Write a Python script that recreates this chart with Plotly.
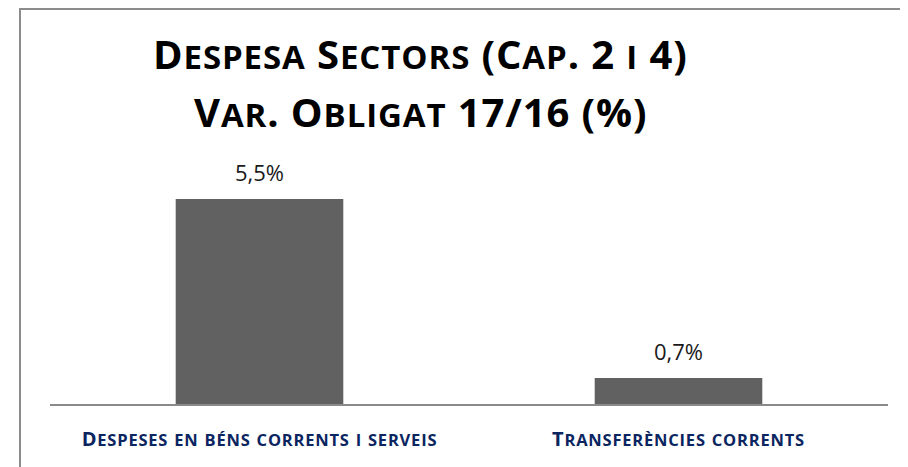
import plotly.graph_objects as go

categories = ["Despeses en béns corrents i serveis", "Transferències corrents"]
values = [5.5, 0.7]
title_lines = ["Despesa Sectors (Cap. 2 i 4)", "Var. Obligat 17/16 (%)"]

FONT = "Open Sans"
BAR_COLOR = "#616161"
LABEL_COLOR = "#0B2560"

# page offset of the figure (browser body margin)
OFF = 8
L, R_EDGE, TOP, BASE = 50 - OFF, 888 - OFF, 0, 404 - OFF
PH = BASE - TOP
PW = R_EDGE - L


def small_caps(text, big, small, spacing):
    """Render text in small capitals: lowercase letters become smaller capitals."""
    out, buf, cur = [], "", None
    for ch in text:
        kind = "s" if ch.islower() else "b"
        if kind != cur and buf:
            out.append((cur, buf))
            buf = ""
        cur = kind
        buf += ch
    if buf:
        out.append((cur, buf))
    parts = []
    for kind, seg in out:
        size = small if kind == "s" else big
        parts.append(
            f'<span style="font-size:{size}px;letter-spacing:{spacing}px">{seg.upper()}</span>'
        )
    return "".join(parts)


fig = go.Figure()
fig.add_trace(go.Bar(
    x=categories,
    y=values,
    marker=dict(color=BAR_COLOR, line=dict(width=0)),
    hoverinfo="skip",
))

annotations = []
for c, v in zip(categories, values):
    annotations.append(dict(
        x=c, y=v, xref="x", yref="y",
        text=f"{v:.1f}%".replace(".", ","),
        showarrow=False, yanchor="bottom", yshift=10,
        font=dict(family=FONT, size=22, color="#1a1a1a"),
    ))

title_centers = [53, 111]  # page y of each title line
for line, yc in zip(title_lines, title_centers):
    annotations.append(dict(
        x=(420 - OFF - L) / PW, y=1 - (yc - OFF - TOP) / PH, xref="paper", yref="paper",
        text=small_caps(line, 40, 33, 0.9),
        showarrow=False, xanchor="center", yanchor="middle",
        font=dict(family=FONT, size=40, color="#000000", weight="bold"),
    ))

fig.update_layout(
    width=908, height=467,
    margin=dict(l=L, r=908 - R_EDGE, t=TOP, b=467 - BASE),
    paper_bgcolor="white", plot_bgcolor="white",
    bargap=0.6,
    showlegend=False,
    annotations=annotations,
    xaxis=dict(
        showline=True, linecolor="#8a8a8a", linewidth=2,
        ticks="", showgrid=False, zeroline=False,
        tickvals=categories,
        ticktext=[small_caps(c, 20, 16.5, 0.8) for c in categories],
        ticklabelstandoff=16,
        tickfont=dict(family=FONT, size=20, color=LABEL_COLOR, weight="bold"),
    ),
    yaxis=dict(visible=False, range=[0, PH / 37.27], showgrid=False, zeroline=False),
    shapes=[dict(
        type="rect", xref="paper", yref="paper",
        x0=(20 - OFF - L) / PW, x1=1.08, y0=-0.3, y1=1 - 1 / PH,
        line=dict(color="#8c8c8c", width=2), fillcolor="rgba(0,0,0,0)", layer="above",
    )],
)

fig.write_html("out.html")
